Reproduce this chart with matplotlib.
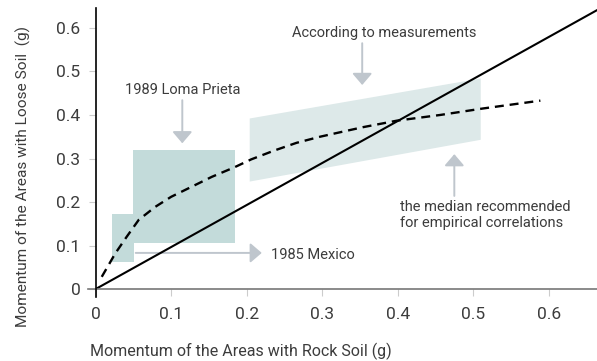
import matplotlib
matplotlib.use("Agg")
import matplotlib.pyplot as plt

plt.rcParams['font.family'] = ['Roboto', 'DejaVu Sans']

# values
solid_x = [0, 0.664]
solid_y = [0, 0.641]

median_x = [0.008, 0.026, 0.041, 0.057, 0.079, 0.100, 0.127, 0.154, 0.184, 0.206,
            0.236, 0.266, 0.297, 0.328, 0.354, 0.399, 0.456, 0.513, 0.589]
median_y = [0.028, 0.082, 0.120, 0.159, 0.189, 0.212, 0.235, 0.258, 0.280, 0.298,
            0.318, 0.336, 0.350, 0.362, 0.372, 0.387, 0.400, 0.415, 0.433]

loma_x = [0.050, 0.185]
loma_y = [0.106, 0.320]
mexico_x = [0.021, 0.051]
mexico_y = [0.063, 0.172]
meas_x = [0.204, 0.510, 0.510, 0.204]
meas_y = [0.392, 0.484, 0.343, 0.247]

xticks = [0, 0.1, 0.2, 0.3, 0.4, 0.5, 0.6]
yticks = [0, 0.1, 0.2, 0.3, 0.4, 0.5, 0.6]
tick_labels = ['0', '0.1', '0.2', '0.3', '0.4', '0.5', '0.6']

box_dark = '#c3dbda'
box_light = '#dde9e9'
arrow_col = '#bfc6cd'
text_col = '#3c3c3c'

fig = plt.figure(figsize=(5.97, 3.61), dpi=100)
ax = fig.add_axes([0.1603, 0.1994, 0.8397, 0.7785])
ax.set_xlim(0, 0.664)
ax.set_ylim(0, 0.646)

ax.fill(meas_x, meas_y, color=box_light, lw=0, zorder=1)
ax.fill([loma_x[0], loma_x[1], loma_x[1], loma_x[0]],
        [loma_y[0], loma_y[0], loma_y[1], loma_y[1]], color=box_dark, lw=0, zorder=1)
ax.fill([mexico_x[0], mexico_x[1], mexico_x[1], mexico_x[0]],
        [mexico_y[0], mexico_y[0], mexico_y[1], mexico_y[1]], color=box_dark, lw=0, zorder=1)

ax.plot(solid_x, solid_y, color='black', lw=1.5, zorder=3)
ax.plot(median_x, median_y, color='black', lw=1.7, ls=(0, (3.8, 2.5)), zorder=3)

def arrow(tip, start):
    ax.annotate('', xy=tip, xytext=start,
                arrowprops=dict(arrowstyle='-|>,head_length=0.7,head_width=0.6',
                                color=arrow_col, lw=1.4, shrinkA=0, shrinkB=0,
                                mutation_scale=10), zorder=2)

arrow((0.1147, 0.335), (0.1147, 0.434))
arrow((0.220, 0.083), (0.053, 0.083))
arrow((0.353, 0.469), (0.353, 0.565))
arrow((0.475, 0.310), (0.475, 0.214))

fs = 10.5
ax.text(0.1147, 0.457, '1989 Loma Prieta', ha='center', va='center', fontsize=fs, color=text_col)
ax.text(0.382, 0.588, 'According to measurements', ha='center', va='center', fontsize=fs, color=text_col)
ax.text(0.232, 0.078, '1985 Mexico', ha='left', va='center', fontsize=fs, color=text_col)
ax.text(0.403, 0.170, 'the median recommended\nfor empirical correlations', ha='left', va='center',
        fontsize=fs, color=text_col, linespacing=1.25)

for s in ax.spines.values():
    s.set_visible(False)
# axis lines, slightly overshooting the corner like the original
ax.plot([-0.016, 1], [0, 0], transform=ax.transAxes, color='#777777', lw=1.2, clip_on=False, zorder=4)
ax.plot([0, 0], [-0.028, 1], transform=ax.transAxes, color='black', lw=1.2, clip_on=False, zorder=4)

ax.set_xticks(xticks)
ax.set_xticklabels(tick_labels)
ax.set_yticks(yticks)
ax.set_yticklabels(tick_labels)
ax.tick_params(length=5, width=0.8, color='#cccccc', labelsize=12.5, labelcolor=text_col)
ax.tick_params(axis='x', pad=8)
ax.tick_params(axis='y', pad=6)

fig.text(0.404, 0.028, 'Momentum of the Areas with Rock Soil (g)', ha='center', va='center',
         fontsize=11.5, color=text_col)
fig.text(0.039, 0.512, 'Momentum of the Areas with Loose Soil  (g)', ha='center', va='center',
         rotation=90, fontsize=11.1, color=text_col)

fig.savefig('out.png', dpi=100)
